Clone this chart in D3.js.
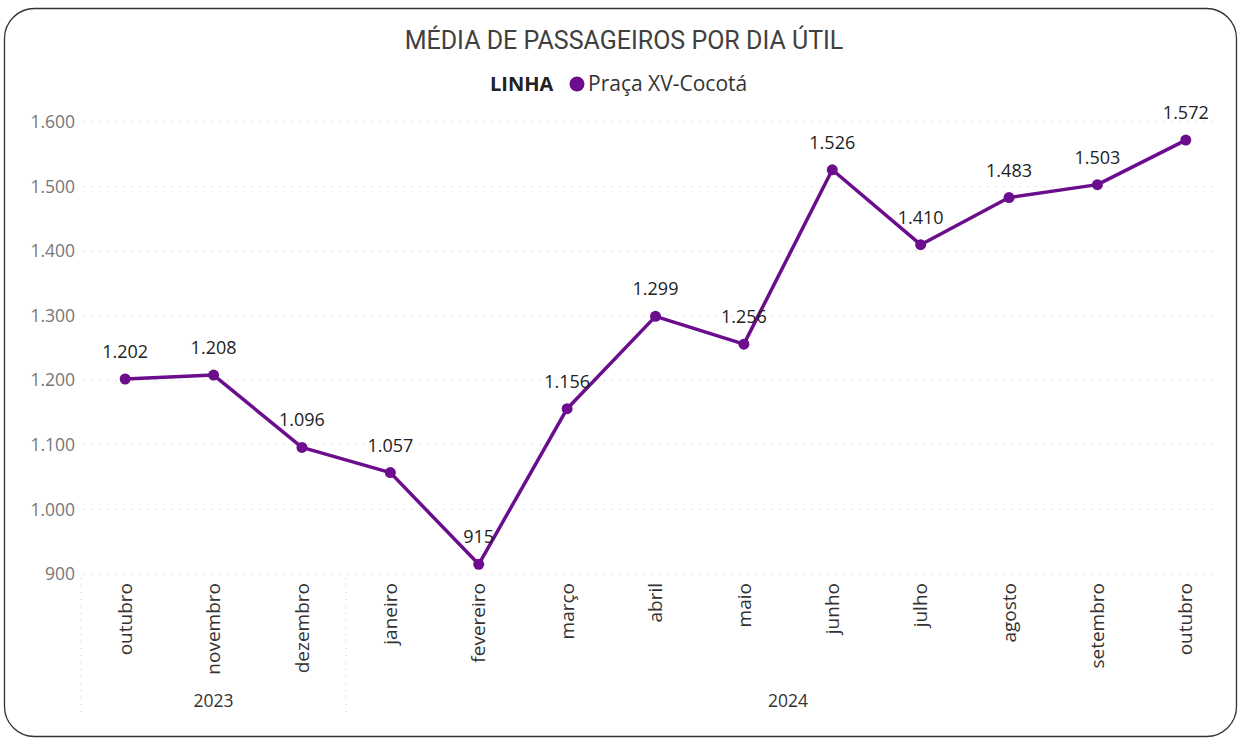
<!DOCTYPE html>
<html>
<head>
<meta charset="utf-8">
<script src="https://cdn.jsdelivr.net/npm/d3@7"></script>
<style>
  body { margin: 0; background: #fff; }
  svg { display: block; font-family: "Open Sans", "Noto Sans", sans-serif; }
</style>
</head>
<body>
<div id="chart"></div>
<script>
const months = ['outubro', 'novembro', 'dezembro', 'janeiro', 'fevereiro', 'março', 'abril',
  'maio', 'junho', 'julho', 'agosto', 'setembro', 'outubro'];
const years = ['2023', '2023', '2023', '2024', '2024', '2024', '2024',
  '2024', '2024', '2024', '2024', '2024', '2024'];
const passengers = [1202, 1208, 1096, 1057, 915, 1156, 1299, 1256, 1526, 1410, 1483, 1503, 1572];
const yTicks = [900, 1000, 1100, 1200, 1300, 1400, 1500, 1600];

const W = 1241, H = 740;
const COLOR = '#6b0d8c';
const fmt = d3.format(',');
const ptFmt = v => fmt(v).replace(/,/g, '.');

const svg = d3.select('#chart').append('svg')
  .attr('width', W).attr('height', H);

// card
svg.append('rect')
  .attr('x', 4.5).attr('y', 8.5)
  .attr('width', 1232).attr('height', 728)
  .attr('rx', 30).attr('ry', 30)
  .attr('fill', '#fff').attr('stroke', '#333').attr('stroke-width', 1.3);

svg.append('text')
  .attr('x', 624).attr('y', 49)
  .attr('text-anchor', 'middle')
  .attr('font-family', 'Roboto, "DejaVu Sans Condensed", sans-serif')
  .attr('font-size', 25).attr('fill', '#404040')
  .text('MÉDIA DE PASSAGEIROS POR DIA ÚTIL');

// legend
const leg = svg.append('g');
leg.append('text').attr('x', 490).attr('y', 91)
  .attr('font-weight', 'bold').attr('font-size', 20).attr('fill', '#222')
  .text('LINHA');
leg.append('circle').attr('cx', 577).attr('cy', 84).attr('r', 7.5).attr('fill', COLOR);
leg.append('text').attr('x', 588).attr('y', 91)
  .attr('font-size', 21).attr('fill', '#333')
  .text('Praça XV-Cocotá');

// scales
const idx = months.map((m, i) => i);
const x = d3.scaleBand().domain(idx).range([81, 1230]).padding(0);
const xc = i => x(i) + x.bandwidth() / 2;
const y = d3.scaleLinear().domain([900, 1600]).range([574, 122]);

// y axis + gridlines
const yAxis = svg.append('g')
  .attr('transform', 'translate(81,0)')
  .call(d3.axisLeft(y).tickValues(yTicks).tickFormat(ptFmt).tickSize(0).tickPadding(6));
yAxis.select('.domain').remove();
yAxis.selectAll('text').attr('font-size', 17.5).attr('fill', '#777')
  .attr('font-family', '"Open Sans", sans-serif');

svg.append('g').selectAll('line').data(yTicks).join('line')
  .attr('x1', 84).attr('x2', 1215)
  .attr('y1', d => y(d)).attr('y2', d => y(d))
  .attr('stroke', '#c8c8c8').attr('stroke-width', 1)
  .attr('stroke-dasharray', '1 7');

// x axis: month labels
const xAxis = svg.append('g')
  .attr('transform', 'translate(0,574)')
  .call(d3.axisBottom(x).tickFormat(i => months[i]).tickSize(0));
xAxis.select('.domain').remove();
xAxis.selectAll('text')
  .attr('transform', 'rotate(-90)')
  .attr('x', -9).attr('y', 0).attr('dy', '0.35em')
  .attr('text-anchor', 'end')
  .attr('font-size', 19).attr('fill', '#333')
  .attr('font-family', '"Open Sans", sans-serif');

// year groups
const groups = d3.groups(idx, i => years[i]);
const sepX = [x(0)].concat(groups.slice(1).map(g => x(g[1][0])));
svg.append('g').selectAll('line').data(sepX).join('line')
  .attr('x1', d => d).attr('x2', d => d)
  .attr('y1', 578).attr('y2', 716)
  .attr('stroke', '#c8c8c8').attr('stroke-dasharray', '1 6');
svg.append('g').selectAll('text').data(groups).join('text')
  .attr('x', g => (x(g[1][0]) + x(g[1][g[1].length - 1]) + x.bandwidth()) / 2)
  .attr('y', 707)
  .attr('text-anchor', 'middle')
  .attr('font-size', 17.5).attr('fill', '#333')
  .text(g => g[0]);

// line
const line = d3.line().x(i => xc(i)).y(i => y(passengers[i]));
svg.append('path').datum(idx)
  .attr('d', line)
  .attr('fill', 'none').attr('stroke', COLOR)
  .attr('stroke-width', 3.5).attr('stroke-linejoin', 'round');

svg.append('g').selectAll('circle').data(idx).join('circle')
  .attr('cx', xc).attr('cy', i => y(passengers[i]))
  .attr('r', 5.5).attr('fill', COLOR);

svg.append('g').selectAll('text').data(idx).join('text')
  .attr('x', xc).attr('y', i => y(passengers[i]) - 21)
  .attr('text-anchor', 'middle')
  .attr('font-size', 18).attr('fill', '#222')
  .text(i => ptFmt(passengers[i]));
</script>
</body>
</html>
